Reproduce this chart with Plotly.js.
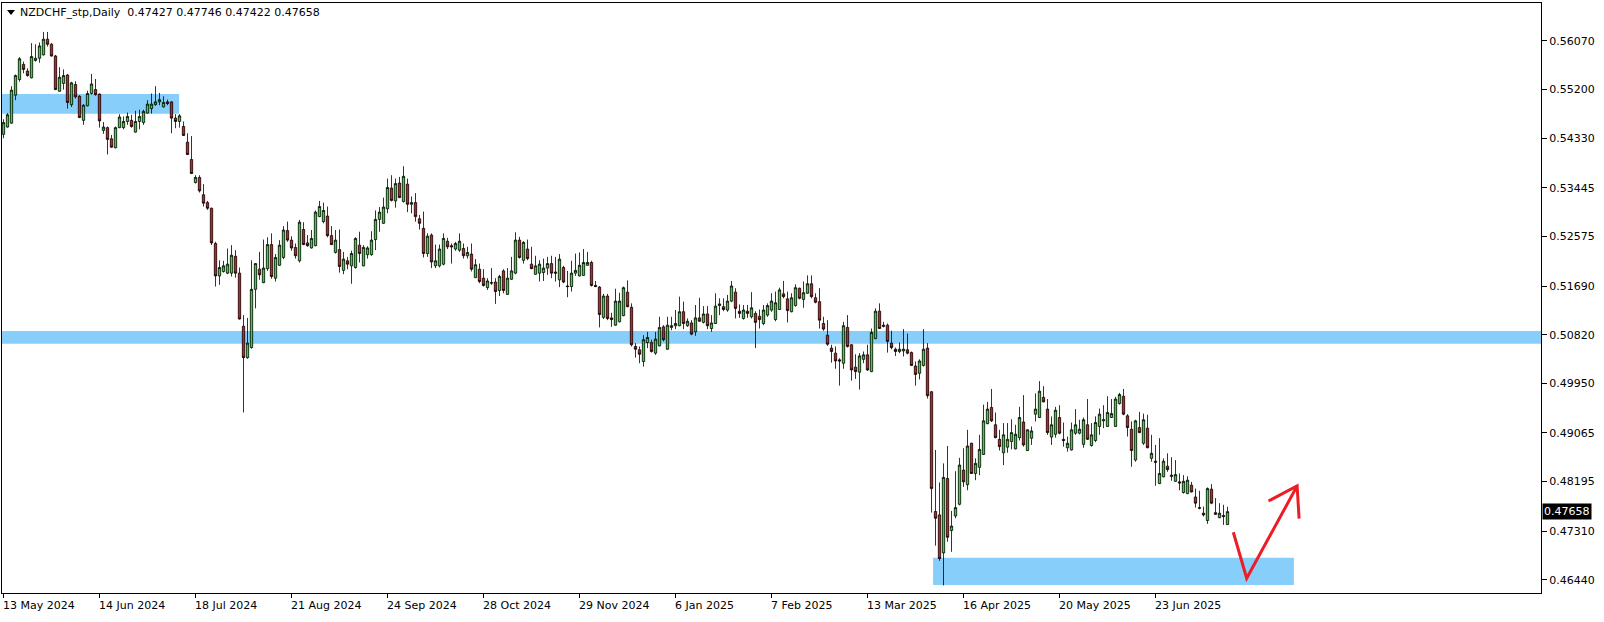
<!DOCTYPE html>
<html>
<head>
<meta charset="utf-8">
<script src="https://cdn.plot.ly/plotly-3.0.1.min.js"></script>
<style>
  html, body { margin: 0; padding: 0; background: #fff; }
  #chart { width: 1604px; height: 622px; }
</style>
</head>
<body>
<div id="chart"></div>
<script>
// NZDCHF daily candles, 13 May 2024 .. mid Jul 2025
const open = [
0.5440,0.5453,0.5460,0.5510,0.5538,0.5565,0.5553,0.5541,0.5572,0.5576,
0.5582,0.5610,0.5601,0.5580,0.5517,0.5531,0.5546,0.5493,0.5529,0.5508,
0.5465,0.5491,0.5513,0.5520,0.5512,0.5447,0.5452,0.5432,0.5416,0.5452,
0.5452,0.5463,0.5465,0.5444,0.5463,0.5461,0.5478,0.5486,0.5493,0.5498,
0.5489,0.5498,0.5498,0.5469,0.5463,0.5454,0.5426,0.5395,0.5354,0.5363,
0.5332,0.5318,0.5308,0.5245,0.5187,0.5195,0.5192,0.5192,0.5222,0.5192,
0.5097,0.5041,0.5059,0.5163,0.5199,0.5175,0.5200,0.5243,0.5183,0.5206,
0.5220,0.5268,0.5251,0.5238,0.5214,0.5270,0.5246,0.5237,0.5241,0.5293,
0.5284,0.5294,0.5259,0.5229,0.5234,0.5197,0.5214,0.5205,0.5202,0.5242,
0.5205,0.5225,0.5225,0.5252,0.5288,0.5281,0.5307,0.5344,0.5321,0.5353,
0.5320,0.5351,0.5315,0.5318,0.5289,0.5272,0.5227,0.5260,0.5205,0.5205,
0.5208,0.5249,0.5241,0.5235,0.5233,0.5236,0.5223,0.5226,0.5184,0.5199,
0.5183,0.5166,0.5174,0.5176,0.5161,0.5196,0.5154,0.5181,0.5192,0.5251,
0.5215,0.5235,0.5208,0.5190,0.5192,0.5193,0.5201,0.5209,0.5194,0.5180,
0.5202,0.5169,0.5168,0.5192,0.5187,0.5188,0.5206,0.5211,0.5170,0.5167,
0.5113,0.5151,0.5112,0.5099,0.5105,0.5116,0.5158,0.5131,0.5061,0.5055,
0.5034,0.5068,0.5068,0.5049,0.5062,0.5096,0.5056,0.5095,0.5098,0.5098,
0.5123,0.5098,0.5103,0.5087,0.5112,0.5104,0.5119,0.5093,0.5102,0.5134,
0.5132,0.5126,0.5142,0.5158,0.5124,0.5111,0.5124,0.5114,0.5120,0.5115,
0.5102,0.5117,0.5126,0.5109,0.5127,0.5155,0.5146,0.5123,0.5134,0.5165,
0.5145,0.5156,0.5173,0.5148,0.5141,0.5102,0.5081,0.5058,0.5049,0.5037,
0.5031,0.5095,0.5064,0.5024,0.5015,0.5038,0.5046,0.5016,0.5075,0.5124,
0.5099,0.5099,0.5067,0.5056,0.5052,0.5053,0.5055,0.5050,0.5026,0.5013,
0.5027,0.5058,0.4980,0.4766,0.4760,0.4692,0.4825,0.4732,0.4758,0.4779,
0.4840,0.4814,0.4888,0.4834,0.4845,0.4868,0.4923,0.4952,0.4921,0.4895,
0.4871,0.4881,0.4891,0.4878,0.4898,0.4926,0.4875,0.4897,0.4940,0.4934,
0.4970,0.4949,0.4899,0.4904,0.4934,0.4895,0.4880,0.4876,0.4906,0.4906,
0.4886,0.4921,0.4884,0.4893,0.4918,0.4928,0.4918,0.4934,0.4918,0.4959,
0.4972,0.4937,0.4913,0.4858,0.4916,0.4888,0.4915,0.4861,0.4856,0.4816,
0.4828,0.4847,0.4831,0.4820,0.4819,0.4800,0.4798,0.4813,0.4792,0.4773,
0.4763,0.4750,0.4806,0.4764,0.4755,0.4759,0.47427
];
const high = [
0.5467,0.5478,0.5526,0.5547,0.5578,0.5570,0.5558,0.5603,0.5601,0.5604,
0.5623,0.5623,0.5603,0.5582,0.5560,0.5556,0.5548,0.5534,0.5535,0.5510,
0.5494,0.5518,0.5548,0.5539,0.5513,0.5462,0.5454,0.5439,0.5454,0.5476,
0.5472,0.5479,0.5475,0.5482,0.5484,0.5484,0.5501,0.5513,0.5526,0.5514,
0.5508,0.5502,0.5499,0.5476,0.5476,0.5463,0.5442,0.5437,0.5367,0.5367,
0.5351,0.5321,0.5309,0.5248,0.5215,0.5214,0.5236,0.5242,0.5233,0.5202,
0.5117,0.5112,0.5215,0.5210,0.5230,0.5252,0.5256,0.5263,0.5226,0.5251,
0.5276,0.5284,0.5258,0.5245,0.5287,0.5283,0.5260,0.5269,0.5304,0.5321,
0.5318,0.5311,0.5276,0.5269,0.5270,0.5230,0.5221,0.5232,0.5256,0.5266,
0.5242,0.5240,0.5267,0.5304,0.5310,0.5327,0.5361,0.5367,0.5361,0.5364,
0.5383,0.5361,0.5329,0.5335,0.5296,0.5302,0.5263,0.5263,0.5243,0.5243,
0.5263,0.5255,0.5245,0.5248,0.5263,0.5245,0.5239,0.5245,0.5217,0.5209,
0.5199,0.5183,0.5201,0.5183,0.5189,0.5199,0.5201,0.5221,0.5265,0.5257,
0.5249,0.5252,0.5239,0.5223,0.5215,0.5218,0.5221,0.5223,0.5221,0.5226,
0.5205,0.5196,0.5214,0.5227,0.5229,0.5235,0.5230,0.5214,0.5178,0.5169,
0.5155,0.5155,0.5121,0.5164,0.5157,0.5168,0.5179,0.5138,0.5067,0.5061,
0.5081,0.5087,0.5073,0.5087,0.5114,0.5099,0.5114,0.5114,0.5126,0.5150,
0.5141,0.5111,0.5108,0.5135,0.5148,0.5133,0.5133,0.5117,0.5156,0.5147,
0.5147,0.5153,0.5178,0.5165,0.5136,0.5135,0.5135,0.5158,0.5124,0.5127,
0.5135,0.5138,0.5156,0.5159,0.5166,0.5178,0.5159,0.5156,0.5172,0.5166,
0.5177,0.5188,0.5188,0.5156,0.5165,0.5114,0.5108,0.5064,0.5061,0.5040,
0.5105,0.5117,0.5065,0.5047,0.5049,0.5052,0.5064,0.5093,0.5129,0.5138,
0.5105,0.5102,0.5089,0.5059,0.5068,0.5092,0.5084,0.5052,0.5034,0.5038,
0.5092,0.5067,0.4981,0.4876,0.4818,0.4852,0.4883,0.4767,0.4838,0.4862,
0.4879,0.4912,0.4889,0.4861,0.4903,0.4957,0.4962,0.4985,0.4943,0.4912,
0.4924,0.4924,0.4931,0.4921,0.4953,0.4974,0.4913,0.4918,0.4977,0.4999,
0.4990,0.4967,0.4936,0.4953,0.4956,0.4925,0.4900,0.4925,0.4949,0.4930,
0.4934,0.4967,0.4924,0.4936,0.4950,0.4956,0.4972,0.4967,0.4971,0.4978,
0.4985,0.4940,0.4927,0.4930,0.4944,0.4941,0.4939,0.4903,0.4885,0.4897,
0.4861,0.4870,0.4863,0.4858,0.4834,0.4831,0.4829,0.4819,0.4807,0.4803,
0.4775,0.4809,0.4815,0.4790,0.4781,0.4778,0.47746
];
const low = [
0.5433,0.5452,0.5459,0.5501,0.5534,0.5549,0.5543,0.5540,0.5570,0.5568,
0.5581,0.5597,0.5579,0.5519,0.5516,0.5520,0.5486,0.5489,0.5504,0.5469,
0.5457,0.5490,0.5511,0.5509,0.5452,0.5441,0.5404,0.5416,0.5415,0.5451,
0.5449,0.5457,0.5452,0.5443,0.5449,0.5457,0.5477,0.5477,0.5491,0.5492,
0.5488,0.5492,0.5442,0.5451,0.5452,0.5437,0.5403,0.5369,0.5352,0.5336,
0.5311,0.5305,0.5242,0.5168,0.5171,0.5193,0.5190,0.5186,0.5184,0.5109,
0.4943,0.5039,0.5057,0.5129,0.5180,0.5174,0.5196,0.5182,0.5177,0.5205,
0.5217,0.5248,0.5232,0.5218,0.5211,0.5242,0.5239,0.5236,0.5240,0.5292,
0.5281,0.5256,0.5242,0.5227,0.5193,0.5190,0.5199,0.5173,0.5200,0.5211,
0.5204,0.5218,0.5223,0.5233,0.5266,0.5280,0.5299,0.5320,0.5309,0.5326,
0.5318,0.5301,0.5299,0.5284,0.5270,0.5220,0.5221,0.5201,0.5201,0.5202,
0.5206,0.5235,0.5209,0.5232,0.5230,0.5218,0.5218,0.5195,0.5183,0.5174,
0.5168,0.5162,0.5171,0.5137,0.5151,0.5156,0.5153,0.5180,0.5190,0.5218,
0.5209,0.5215,0.5199,0.5189,0.5177,0.5178,0.5189,0.5183,0.5177,0.5167,
0.5174,0.5149,0.5159,0.5187,0.5186,0.5187,0.5205,0.5168,0.5167,0.5095,
0.5110,0.5108,0.5096,0.5098,0.5104,0.5115,0.5131,0.5061,0.5041,0.5031,
0.5025,0.5058,0.5050,0.5046,0.5061,0.5070,0.5055,0.5090,0.5092,0.5097,
0.5092,0.5096,0.5081,0.5080,0.5105,0.5102,0.5092,0.5087,0.5101,0.5117,
0.5124,0.5123,0.5140,0.5111,0.5112,0.5109,0.5112,0.5111,0.5058,0.5093,
0.5099,0.5114,0.5123,0.5106,0.5126,0.5147,0.5104,0.5122,0.5132,0.5145,
0.5130,0.5155,0.5147,0.5138,0.5093,0.5089,0.5062,0.5032,0.5021,0.4991,
0.5021,0.5059,0.5000,0.5003,0.4984,0.5031,0.5017,0.5015,0.5074,0.5092,
0.5095,0.5050,0.5056,0.5044,0.5049,0.5043,0.5047,0.5026,0.4991,0.5002,
0.5025,0.4968,0.4764,0.4705,0.4678,0.4634,0.4712,0.4694,0.4754,0.4777,
0.4810,0.4804,0.4833,0.4822,0.4831,0.4867,0.4922,0.4926,0.4897,0.4875,
0.4849,0.4871,0.4877,0.4877,0.4893,0.4882,0.4874,0.4885,0.4927,0.4933,
0.4961,0.4903,0.4885,0.4898,0.4904,0.4882,0.4873,0.4875,0.4903,0.4904,
0.4880,0.4894,0.4882,0.4890,0.4903,0.4915,0.4917,0.4933,0.4917,0.4957,
0.4938,0.4900,0.4846,0.4855,0.4906,0.4885,0.4879,0.4855,0.4812,0.4815,
0.4827,0.4837,0.4821,0.4819,0.4804,0.4798,0.4797,0.4800,0.4773,0.4770,
0.4757,0.4744,0.4779,0.4760,0.4754,0.4742,0.47422
];
const close = [
0.5461,0.5475,0.5519,0.5545,0.5575,0.5556,0.5545,0.5579,0.5576,0.5598,
0.5610,0.5601,0.5580,0.5520,0.5542,0.5545,0.5497,0.5532,0.5507,0.5470,
0.5492,0.5513,0.5530,0.5511,0.5464,0.5453,0.5431,0.5417,0.5452,0.5471,
0.5463,0.5472,0.5454,0.5463,0.5472,0.5481,0.5494,0.5494,0.5498,0.5502,
0.5497,0.5495,0.5469,0.5463,0.5473,0.5438,0.5404,0.5370,0.5363,0.5339,
0.5317,0.5308,0.5246,0.5187,0.5202,0.5205,0.5208,0.5224,0.5192,0.5110,
0.5041,0.5067,0.5163,0.5209,0.5189,0.5201,0.5243,0.5186,0.5220,0.5242,
0.5269,0.5251,0.5237,0.5223,0.5283,0.5243,0.5241,0.5254,0.5301,0.5311,
0.5304,0.5259,0.5243,0.5251,0.5204,0.5217,0.5208,0.5227,0.5254,0.5227,
0.5238,0.5237,0.5251,0.5288,0.5301,0.5310,0.5345,0.5322,0.5352,0.5327,
0.5365,0.5315,0.5318,0.5293,0.5281,0.5227,0.5258,0.5212,0.5214,0.5235,
0.5254,0.5239,0.5239,0.5245,0.5249,0.5223,0.5229,0.5199,0.5207,0.5177,
0.5170,0.5178,0.5175,0.5159,0.5186,0.5161,0.5183,0.5196,0.5251,0.5220,
0.5247,0.5218,0.5200,0.5205,0.5208,0.5201,0.5209,0.5192,0.5192,0.5217,
0.5176,0.5168,0.5192,0.5197,0.5206,0.5211,0.5211,0.5170,0.5168,0.5118,
0.5151,0.5111,0.5109,0.5142,0.5142,0.5166,0.5132,0.5064,0.5056,0.5047,
0.5073,0.5077,0.5052,0.5074,0.5095,0.5073,0.5099,0.5098,0.5102,0.5123,
0.5102,0.5106,0.5083,0.5112,0.5106,0.5119,0.5098,0.5103,0.5133,0.5137,
0.5127,0.5142,0.5169,0.5129,0.5120,0.5126,0.5120,0.5130,0.5104,0.5109,
0.5126,0.5134,0.5142,0.5139,0.5162,0.5150,0.5125,0.5148,0.5166,0.5147,
0.5157,0.5173,0.5150,0.5140,0.5108,0.5092,0.5065,0.5052,0.5035,0.5035,
0.5098,0.5061,0.5019,0.5016,0.5044,0.5046,0.5019,0.5086,0.5124,0.5093,
0.5097,0.5070,0.5059,0.5052,0.5056,0.5056,0.5049,0.5027,0.5011,0.5035,
0.5056,0.4973,0.4807,0.4754,0.4682,0.4827,0.4720,0.4740,0.4773,0.4849,
0.4819,0.4883,0.4834,0.4852,0.4877,0.4928,0.4949,0.4928,0.4898,0.4882,
0.4903,0.4895,0.4907,0.4904,0.4934,0.4885,0.4912,0.4910,0.4949,0.4981,
0.4962,0.4907,0.4921,0.4947,0.4906,0.4893,0.4888,0.4912,0.4921,0.4913,
0.4930,0.4895,0.4903,0.4925,0.4940,0.4930,0.4943,0.4941,0.4967,0.4975,
0.4940,0.4916,0.4875,0.4928,0.4907,0.4930,0.4880,0.4870,0.4854,0.4834,
0.4856,0.4841,0.4829,0.4832,0.4817,0.4820,0.4822,0.4801,0.4781,0.4772,
0.4760,0.4807,0.4781,0.4761,0.4763,0.4757,0.47658
];

// x-axis date labels: one every 24 bars, starting at the first bar
const tickLabels = ["13 May 2024","14 Jun 2024","18 Jul 2024","21 Aug 2024","24 Sep 2024",
  "28 Oct 2024","29 Nov 2024","6 Jan 2025","7 Feb 2025","13 Mar 2025","16 Apr 2025",
  "20 May 2025","23 Jun 2025"];
const barsPerLabel = 24;
// y-axis price labels
const priceTicks = [0.56070,0.55200,0.54330,0.53445,0.52575,0.51690,0.50820,0.49950,
  0.49065,0.48195,0.47310,0.46440];

// drawn objects: zones (bar index from/to, price low/high) and the red arrow
const zones = [
  {x0: -5,    x1: 43.9,  y0: 0.54769, y1: 0.55121},
  {x0: -5,    x1: 400,   y0: 0.50659, y1: 0.50886},
  {x0: 232.9, x1: 322.6, y0: 0.46347, y1: 0.46835}
];
const arrowBody = [[307.45, 0.47289], [310.8, 0.46467], [323.4, 0.48116]];
const arrowHead = [[316.25, 0.47848], [323.4, 0.48116], [323.9, 0.47534]];

const symbol = "NZDCHF_stp,Daily";

const x = open.map((_, i) => i);
const tickIdx = tickLabels.map((_, k) => k * barsPerLabel);
const n = open.length;
const font = 'DejaVu Sans';

const trace = {
  type: 'candlestick',
  x: x, open: open, high: high, low: low, close: close,
  whiskerwidth: 0,
  increasing: {line: {color: '#000000', width: 0.8}, fillcolor: '#22e622'},
  decreasing: {line: {color: '#000000', width: 0.8}, fillcolor: '#ee1111'},
  hoverinfo: 'skip',
  showlegend: false
};

const toPath = pts => pts.map((p, k) => (k ? 'L ' : 'M ') + p[0] + ' ' + p[1]).join(' ');

const shapes = zones.map(z => ({
  type: 'rect', xref: 'x', yref: 'y', layer: 'below',
  x0: z.x0 - 0.5, x1: z.x1, y0: z.y0, y1: z.y1,
  fillcolor: '#87CEFA', line: {width: 0}
}));
shapes.push({type: 'path', xref: 'x', yref: 'y', path: toPath(arrowBody),
  line: {color: '#ee1c24', width: 3}});
shapes.push({type: 'path', xref: 'x', yref: 'y', path: toPath(arrowHead),
  line: {color: '#ee1c24', width: 3}});
// small header triangle
shapes.push({type: 'path', xref: 'paper', yref: 'paper', xsizemode: 'pixel', ysizemode: 'pixel',
  xanchor: 0, yanchor: 1, path: 'M 5 -7 L 13 -7 L 9 -12 Z',
  fillcolor: '#000', line: {width: 0}});

const annotations = tickLabels.map((t, k) => ({
  xref: 'x', yref: 'paper', x: tickIdx[k], y: 0,
  xanchor: 'left', yanchor: 'top', xshift: -3, yshift: -4,
  text: t, showarrow: false, font: {family: font, size: 11, color: '#000'}
}));
const last = n - 1;
annotations.push({
  xref: 'paper', yref: 'paper', x: 0, y: 1, xanchor: 'left', yanchor: 'middle',
  xshift: 16, yshift: -9.5, showarrow: false,
  text: symbol + '  ' + [open[last], high[last], low[last], close[last]].map(v => v.toFixed(5)).join(' '),
  font: {family: font, size: 11, color: '#000'}
});
annotations.push({
  xref: 'paper', yref: 'y', x: 1, y: close[last], xanchor: 'left', yanchor: 'middle',
  xshift: 1, showarrow: false, text: close[last].toFixed(5),
  bgcolor: '#000', borderpad: 1, font: {family: font, size: 11, color: '#fff'}
});

const layout = {
  width: 1604, height: 622,
  margin: {l: 2, r: 63, t: 3, b: 29, pad: 0},
  paper_bgcolor: '#ffffff', plot_bgcolor: '#ffffff',
  showlegend: false,
  boxgap: 0.42, boxgroupgap: 0,
  xaxis: {
    range: [-0.375, 384.375], autorange: false,
    showgrid: false, zeroline: false, showline: true, mirror: true,
    linecolor: '#000', linewidth: 1,
    ticks: 'outside', ticklen: 4, tickcolor: '#000', tickwidth: 1,
    tickmode: 'array', tickvals: tickIdx, showticklabels: false,
    rangeslider: {visible: false}, fixedrange: true
  },
  yaxis: {
    side: 'right', range: [0.46204, 0.56747], autorange: false,
    showgrid: false, zeroline: false, showline: true, mirror: true,
    linecolor: '#000', linewidth: 1,
    ticks: 'outside', ticklen: 5, tickcolor: '#000', tickwidth: 1,
    tickmode: 'array', tickvals: priceTicks, ticktext: priceTicks.map(v => v.toFixed(5)),
    tickfont: {family: font, size: 11, color: '#000'},
    fixedrange: true
  },
  shapes: shapes,
  annotations: annotations
};

Plotly.newPlot('chart', [trace], layout, {staticPlot: true, displayModeBar: false});
</script>
</body>
</html>
